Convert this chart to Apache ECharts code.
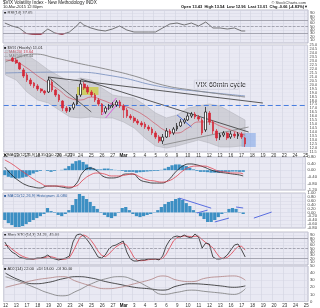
<!DOCTYPE html>
<html><head><meta charset="utf-8">
<script src="https://cdn.jsdelivr.net/npm/echarts@6/dist/echarts.min.js"></script>
<style>html,body{margin:0;padding:0;background:#fff}#c{width:320px;height:308px}</style>
</head><body><div id="c"></div>
<script>
// ---- data ----
const days = ['12','13','17','18','19','20','23','24','25','26','27','Mar','3','4','5','6','9','10','11','12','13','16','17','18','19','20','23','24','25'];
const N = 85; // 3 hourly slots per day label
const open  = [null,null,23.36,23.11,22.73,21.85,21.22,20.58,20.21,19.83,19.45,19.20,19.07,20.33,19.32,18.69,17.93,17.05,16.80,17.05,17.56,18.69,20.08,19.70,19.07,18.69,18.06,17.56,16.55,17.05,17.30,17.43,17.81,17.30,16.80,16.04,15.79,15.41,15.16,15.03,14.65,14.40,13.90,13.39,12.89,13.39,14.15,13.90,14.40,14.78,15.29,15.54,16.04,16.29,15.92,15.54,14.28,16.42,15.29,14.15,13.39,13.64,13.90,13.39,13.77,13.52,13.77,13.27];
const close = [null,null,22.98,22.73,21.97,21.09,20.58,20.08,19.83,19.45,19.20,18.94,20.58,19.32,18.69,18.06,17.05,16.67,17.05,17.56,18.57,20.08,19.57,19.07,18.69,18.06,17.56,16.55,17.05,17.30,17.43,17.81,17.30,16.80,16.04,15.79,15.41,15.16,14.91,14.65,14.40,13.90,13.39,12.89,13.39,14.15,13.77,14.40,14.78,15.29,15.54,16.04,16.29,15.92,15.66,13.90,16.55,15.29,14.15,13.27,13.64,13.90,13.27,13.77,13.52,13.77,13.39,12.51];
const high  = [null,null,23.49,23.36,22.86,22.10,21.47,20.84,20.33,20.08,19.57,19.32,20.96,20.58,19.45,18.82,18.06,17.30,17.18,17.81,18.82,20.58,20.33,19.95,19.32,18.94,18.31,17.68,17.30,17.56,17.81,18.06,18.06,17.56,17.05,16.29,16.04,15.66,15.41,15.29,14.91,14.65,14.15,13.64,13.77,14.53,14.40,14.65,15.16,15.66,15.79,16.42,16.55,16.55,16.17,15.79,17.18,16.67,15.54,14.40,13.90,14.15,14.02,14.15,14.02,14.02,14.02,13.39];
const low   = [null,null,22.86,22.60,21.85,20.84,20.33,19.83,19.57,19.20,18.94,18.69,18.94,19.07,18.44,17.81,16.67,16.42,16.55,16.80,17.43,18.44,19.32,18.82,18.44,17.81,17.30,16.17,16.29,16.80,17.05,17.18,17.05,15.79,15.79,15.54,15.16,14.91,14.65,14.40,14.15,13.64,13.14,12.64,12.51,13.27,13.39,13.64,14.15,14.65,15.03,15.41,15.79,15.66,15.41,13.64,14.02,14.91,13.77,12.89,13.01,13.39,13.01,13.14,13.27,13.14,13.14,12.13];

const bandIdx = [0,3,6,9,12,15,18,21,24,27,30,33,36,39,42,45,48,51,54,57,60,63,66,67];
const bandUp  = [24.37,24.12,23.74,22.86,21.85,21.09,20.33,20.84,20.58,19.57,18.69,18.44,18.31,17.43,16.42,15.79,16.17,17.05,17.30,17.56,17.30,16.55,15.79,15.54];
const bandLo  = [21.22,20.58,19.07,18.06,17.68,16.80,15.92,15.79,15.92,15.79,15.79,15.29,14.53,13.27,12.26,12.00,12.26,12.64,13.01,12.64,12.13,12.13,12.26,12.26];
const ma20    = [23.11,22.86,22.10,21.09,20.21,19.32,18.31,18.06,18.44,18.06,17.56,17.30,16.80,16.04,15.03,14.15,13.90,14.53,15.29,15.29,14.78,14.28,13.77,13.64];
const ma50Idx = [0,3,8,14,20,28,36,44,52,60,67];
const ma50    = [22.86,23.36,23.86,23.36,22.73,21.97,21.09,19.95,19.32,18.82,18.44];
const ma200Idx= [0,18,30,44,56,67];
const ma200   = [21.47,21.59,21.09,19.70,19.07,18.57];

const rsiIdx = [0,2,4,6,8,10,12,14,16,18,20,21,22,24,26,28,30,32,34,36,38,40,42,44,46,48,50,52,54,56,58,60,62,64,66,67];
const rsi    = [60.6,51.5,45.5,29,26,26,42.4,30,26,33.3,51.5,63.6,54.5,45.5,39.4,36.4,42.4,51.5,39.4,33.3,33.3,33.3,33.3,45.5,57.6,60.6,54.5,60.6,51.5,63.6,45.5,45.5,42.4,45.5,36.4,36.4];
const rsiLowA = [[5,30],[6,29],[8,26],[10,26],[11,30]];
const rsiLowB = [[14,30],[15,28],[16,26],[17,30]];

const mIdx   = [0,2,4,6,8,10,12,14,16,18,20,22,24,26,28,30,32,34,36,38,40,42,44,46,48,50,52,54,56,58,60,62,64,66,67];
const macd   = [0.19,-0.29,-0.65,-0.90,-1.02,-1.08,-0.96,-0.96,-1.02,-1.08,-0.84,-0.11,0.13,-0.05,-0.41,-0.47,-0.41,-0.23,-0.23,-0.59,-0.72,-0.78,-0.78,-0.59,-0.11,0.25,0.38,0.32,0.19,0.01,-0.11,-0.17,-0.23,-0.29,-0.35];
const signal = [0.62,0.38,0.07,-0.23,-0.53,-0.78,-0.96,-0.96,-0.96,-1.02,-0.96,-0.59,-0.29,-0.17,-0.23,-0.35,-0.35,-0.29,-0.23,-0.41,-0.59,-0.65,-0.72,-0.65,-0.41,-0.05,0.19,0.25,0.25,0.13,-0.05,-0.11,-0.17,-0.17,-0.23];
const macdHist = [-0.3,-0.4,-0.45,-0.5,-0.5,-0.45,-0.4,-0.3,-0.2,-0.1,-0.05,0,-0.05,-0.1,-0.05,0,0.02,0.1,0.25,0.4,0.55,0.6,0.5,0.35,0.2,0.1,0.05,0.05,0.1,0.1,0.05,0.02,-0.02,-0.05,-0.1,-0.1,-0.1,-0.15,-0.12,-0.1,-0.08,-0.06,-0.05,-0.05,0.02,0.1,0.2,0.3,0.35,0.35,0.3,0.25,0.15,0.05,-0.05,-0.1,-0.1,-0.12,-0.15,-0.15,-0.15,-0.12,-0.1,-0.1,-0.08,-0.08,-0.1,-0.1];
const hist2 = [-0.39,-0.55,-0.65,-0.75,-0.75,-0.70,-0.60,-0.49,-0.39,-0.29,-0.19,-0.08,0.23,0.07,-0.03,-0.13,-0.19,-0.08,0.12,0.38,0.69,0.95,0.85,0.69,0.54,0.33,0.18,-0.03,-0.13,-0.24,-0.29,-0.19,-0.03,0.23,0.28,0.12,-0.08,-0.19,-0.24,-0.19,-0.13,-0.08,0.02,0.12,0.28,0.43,0.54,0.59,0.69,0.74,0.64,0.48,0.33,0.12,-0.03,-0.19,-0.34,-0.49,-0.49,-0.39,-0.24,-0.08,0.02,0.18,0.23,0.18,0.02,-0.08];
const stoK = [69.7,51.5,39.4,33.3,24.2,21.2,18.2,18.2,18.2,21.2,21.2,24.2,30.3,21.2,18.2,15.2,18.2,21.2,27.3,69.7,90.9,93.9,87.9,75.8,60.6,42.4,24.2,21.2,30.3,48.5,57.6,60.6,66.7,72.7,39.4,18.2,12.1,12.1,15.2,15.2,18.2,18.2,18.2,15.2,27.3,57.6,75.8,84.8,87.9,84.8,90.9,84.8,81.8,93.9,84.8,51.5,66.7,63.6,24.2,18.2,18.2,21.2,30.3,45.5,60.6,63.6,45.5,24.2];
const stoD = [60,58,48,40,32,26,22,19,18,19,20,22,25,25,22,18,17,18,22,40,63,85,91,86,75,60,42,29,25,33,45,55,62,67,60,43,23,14,13,14,16,17,18,17,20,33,53,73,83,86,88,87,86,87,87,77,68,60,52,36,22,19,23,32,45,56,57,45];
const adxIdx = [0,4,8,12,16,20,24,28,32,36,40,44,48,52,56,60,64,67];
const adx = [40,30,25,27,32,35,33,28,24,20,18,16,22,25,24,22,20,22];
const pdi = [35,28,20,12,8,15,25,32,35,30,20,10,13,16,14,12,10,18];
const mdi = [20,25,30,33,35,28,22,18,20,25,30,36,30,28,33,35,36,30];

// ---- build ----
const pairs = (idx, v) => idx.map((j, k) => [j, v[k]]);
const cats = Array.from({length: N}, (_, i) => String(i));
const FONT = 'Liberation Sans';
const gridDefs = [[10,33],[45,107],[157,33],[193,35],[232,33],[266,36]];
const grid = gridDefs.map(([t,h]) => ({left:3, right:12, top:t, height:h, show:true,
  backgroundColor:'#e9e9f3', borderColor:'#9c9cab', borderWidth:0.6}));
const xAxis = gridDefs.map((g, i) => ({
  type:'category', gridIndex:i, data:cats, boundaryGap:true,
  axisLine:{show:false}, axisTick:{show:false},
  axisLabel:{show: i===1 || i===5, interval:2, fontSize:4.5, color:'#333', margin:1.5, fontFamily:FONT,
    formatter:(v)=>{ const d = days[Number(v)/3]; return d==='Mar' ? '{b|Mar}' : (d||''); },
    rich:{b:{fontWeight:'bold', fontSize:4.5, color:'#111'}}},
  splitLine:{show:true, interval:2, lineStyle:{color:'#d2d3e1', width:0.6}}
}));
const yDef = [[0,100,10],[11.5,25,0.5],[-1.2,0.8,0.4],[-0.8,1.0,0.2],[0,100,10],[0,50,10]];
const yAxis = yDef.map(([mn,mx,iv], i) => ({
  type:'value', gridIndex:i, position:'right', min:mn, max:mx, interval:iv,
  axisLine:{show:false}, axisTick:{show:false},
  axisLabel:{fontSize: i===1 ? 3.8 : 4.2, color:'#444', margin:2, fontFamily:FONT,
    formatter: v => i===1 ? v.toFixed(1) : (i===2||i===3 ? v.toFixed(2) : String(v))},
  splitLine:{show:true, lineStyle:{color: i===1 ? '#e0e0ec' : '#d6d6e4', width:0.5}}
}));
const line = (gi, data, color, w, extra) => Object.assign({type:'line', xAxisIndex:gi, yAxisIndex:gi, data,
  symbol:'none', lineStyle:{color, width:w}, silent:true, animation:false}, extra||{});
const levels = (arr) => ({silent:true, symbol:'none', label:{show:false},
  lineStyle:{color:'#8c8c9a', width:0.7, type:'solid'}, data:arr});

const candles = open.map((o,i) => o==null ? '-' : [o, close[i], low[i], high[i]]);

const series = [
  // RSI panel
  line(0, pairs(rsiIdx, rsi), '#555', 0.8, {markLine: levels([{yAxis:70},{yAxis:30},{yAxis:50, lineStyle:{type:'dashed'}}])}),
  line(0, rsiLowA, '#c3304c', 0.6, {areaStyle:{origin:30, color:'#c3304c', opacity:0.9}}),
  line(0, rsiLowB, '#c3304c', 0.6, {areaStyle:{origin:30, color:'#c3304c', opacity:0.9}}),
  // main panel: bollinger band
  {type:'custom', xAxisIndex:1, yAxisIndex:1, data:[[0,15]], encode:{x:0,y:1}, silent:true, z:1, animation:false,
    renderItem:(p, api) => {
      const pts = [];
      bandIdx.forEach((j,k) => pts.push(api.coord([j, bandUp[k]])));
      for (let k = bandIdx.length-1; k >= 0; k--) pts.push(api.coord([bandIdx[k], bandLo[k]]));
      return {type:'polygon', shape:{points:pts}, style:{fill:'rgba(170,170,176,0.4)', stroke:'#aeaeb6', lineWidth:0.5}};
    }},
  line(1, pairs(ma200Idx, ma200), '#7f95c2', 0.9, {smooth:true}),
  line(1, pairs(ma50Idx, ma50), '#858585', 0.9, {smooth:true}),
  line(1, pairs(bandIdx, ma20), '#d04050', 0.6, {smooth:true}),
  line(1, [[12,20.96],[72,17.68]], '#333', 0.8),
  line(1, [[21,20.71],[68,14.02]], '#333', 0.8),
  line(1, [[12,20.96],[24,16.55]], '#333', 0.7),
  line(1, [[44,12.38],[68,14.65]], '#777', 0.7),
  line(1, [[27,16.17],[31,18.31]], '#e040e0', 0.8),
  line(1, [[28,15.79],[32,17.93]], '#e040e0', 0.8),
  line(1, [[48,16.17],[52,14.65]], '#4a6de0', 1),
  {type:'candlestick', xAxisIndex:1, yAxisIndex:1, data:candles, barWidth:2.2, silent:true, animation:false, z:5,
    itemStyle:{color:'#ffffff', borderColor:'#111', color0:'#d42a3a', borderColor0:'#d42a3a', borderWidth:0.7},
    markLine:{silent:true, symbol:'none', label:{show:false}, lineStyle:{color:'#4a7fe0', width:1.2, type:[5,3]},
      data:[{yAxis:17.43}]},
    markArea:{silent:true, data:[
      [{xAxis:20, yAxis:19.70, itemStyle:{color:'rgba(230,230,20,0.85)'}}, {xAxis:26, yAxis:18.69}],
      [{xAxis:66, yAxis:13.90, itemStyle:{color:'rgba(120,160,230,0.55)'}}, {xAxis:70, yAxis:12.13}]
    ]}},
  // MACD
  {type:'bar', xAxisIndex:2, yAxisIndex:2, data:macdHist, barCategoryGap:'10%', silent:true, animation:false,
    itemStyle:{color:'#3c8fc3'}},
  line(2, pairs(mIdx, macd), '#222', 0.8, {smooth:true}),
  line(2, pairs(mIdx, signal), '#e0404e', 0.8, {smooth:true}),
  // MACD histogram panel
  {type:'bar', xAxisIndex:3, yAxisIndex:3, data:hist2, barCategoryGap:'10%', silent:true, animation:false,
    itemStyle:{color:'#3c8fc3'}},
  line(3, [[49,0.74],[58,0.22]], '#5a6ee0', 1),
  line(3, [[54,-0.03],[57,0.12]], '#5a6ee0', 1),
  line(3, [[59,-0.49],[63,-0.29]], '#5a6ee0', 1),
  line(3, [[65,0.28],[67,0.23]], '#5a6ee0', 1),
  line(3, [[70,-0.29],[75,0.02]], '#5a6ee0', 1),
  // Stochastics
  line(4, stoD, '#e0404e', 0.8, {markLine: levels([{yAxis:80},{yAxis:20},{yAxis:50, lineStyle:{type:'dashed'}}])}),
  line(4, stoK, '#222', 0.8),
  // ADX
  line(5, pairs(adxIdx, adx), '#222', 0.8, {smooth:true}),
  line(5, pairs(adxIdx, pdi), '#7a7a7a', 0.8, {smooth:true}),
  line(5, pairs(adxIdx, mdi), '#b08080', 0.8, {smooth:true})
];

const txt = (x, y, t, o) => ({type:'text', left:x, top:y, silent:true,
  style:Object.assign({text:t, fontSize:4.3, fontFamily:FONT, fill:'#222'}, o||{})});
const graphic = [
  txt(3, 0.5, '$VIX Volatility Index - New Methodology INDX', {fontSize:4.6}),
  txt(3, 5, '10-Mar-2015 12:30pm', {fontSize:4}),
  {type:'text', right:14, top:0.5, silent:true, style:{text:'© StockCharts.com', fontSize:4, fontFamily:FONT, fill:'#333'}},
  {type:'text', right:12, top:4.8, silent:true, style:{text:'Open 13.43  High 13.54  Low 12.96  Last 13.01  Chg -0.66 (-4.83%)▼', fontSize:4, fontFamily:FONT, fill:'#111', fontWeight:'bold'}},
  txt(4, 10.5, '■ RSI(14) 37.05', {fontSize:4}),
  txt(4, 45.5, '■ $VIX (Hourly) 13.01', {fontSize:4}),
  txt(4, 49.5, '— MA(20) 13.64', {fontSize:4, fill:'#c03040'}),
  txt(4, 53.5, '— MA(50) 18.44', {fontSize:4, fill:'#555'}),
  txt(4, 153.2, '■ MACD(12,26,9) -0.350, -0.230, -0.120', {fontSize:4}),
  txt(4, 194, '■ MACD(12,26,9) Histogram -0.080', {fontSize:4, fill:'#2a5a9a'}),
  txt(4, 233, '■ Slow STO(14,3) 24.20, 45.00', {fontSize:4}),
  txt(4, 267, '■ ADX(14) 22.00  +DI 18.00  -DI 30.00', {fontSize:4}),
  {type:'group', left:194, top:80, silent:true, children:[
    {type:'rect', shape:{x:0, y:0, width:44, height:9}, style:{fill:'rgba(255,255,255,0)', stroke:'#b8b8c8', lineWidth:0.5}},
    {type:'text', x:1.5, y:1, style:{text:'VIX 60min cycle', fontSize:7, fontFamily:FONT, fill:'#222'}}
  ]}
];

const chart = echarts.init(document.getElementById('c'), null, {renderer:'canvas', width:320, height:308});
chart.setOption({animation:false, backgroundColor:'#ffffff', grid, xAxis, yAxis, series, graphic});
</script></body></html>
